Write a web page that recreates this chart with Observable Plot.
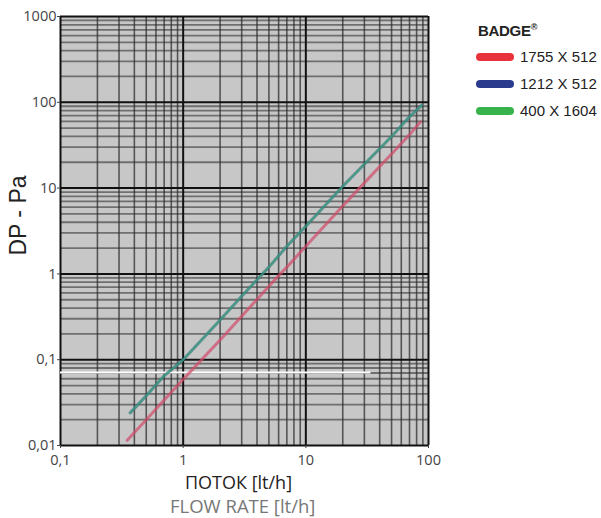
<!DOCTYPE html>
<html>
<head>
<meta charset="utf-8">
<script src="https://cdn.jsdelivr.net/npm/d3@7"></script>
<script src="https://cdn.jsdelivr.net/npm/@observablehq/plot@0.6"></script>
<style>
  body { margin: 0; background: white; }
  #wrap { position: relative; width: 601px; height: 518px; font-family: "Open Sans", "DejaVu Sans", sans-serif; }
  .lbl { position: absolute; white-space: nowrap; line-height: 1; }
  .leg { position: absolute; left: 476px; font-family: "Liberation Sans", Arial, sans-serif; }
  .sw { position: absolute; width: 38px; height: 8px; border-radius: 4px; }
  .lt { position: absolute; left: 44px; top: -9px; font-size: 15px; line-height: 1.2; color: #222; white-space: nowrap; }
</style>
</head>
<body>
<div id="wrap"></div>
<script>
// ---- data ----
const xTicks = [0.1, 1, 10, 100];
const xTickLabels = ["0,1", "1", "10", "100"];
const yTicks = [0.01, 0.1, 1, 10, 100, 1000];
const yTickLabels = ["0,01", "0,1", "1", "10", "100", "1000"];
const decadesX = [0.1, 1, 10];
const decadesY = [0.01, 0.1, 1, 10, 100];
const minorMult = [2, 3, 4, 5, 6, 7, 8, 9];

const seriesNames = ["1755 X 512", "1212 X 512", "400 X 1604"];
const seriesColors = ["#e8323c", "#2a3a8c", "#38b24a"];

const redX = [0.35, 0.5, 0.7, 1, 2, 3, 5, 7, 10, 20, 30, 50, 70, 86];
const redY = [0.0115, 0.02, 0.034, 0.059, 0.17, 0.32, 0.72, 1.2, 2.1, 6.2, 11.5, 25, 42, 59];
const blueX = [0.37, 0.5, 0.7, 1, 2, 3, 5, 7, 10, 20, 30, 50, 70, 88];
const blueY = [0.024, 0.038, 0.065, 0.1, 0.29, 0.55, 1.2, 2.1, 3.6, 10.5, 19, 40, 68, 92];
const greenX = [0.37, 0.5, 0.7, 1, 2, 3, 5, 7, 10, 20, 30, 50, 70, 88];
const greenY = [0.024, 0.038, 0.065, 0.1, 0.29, 0.55, 1.2, 2.1, 3.6, 10.5, 19, 40, 68, 92];

// ---- build tables ----
const xMinor = decadesX.flatMap(d => minorMult.map(m => d * m));
const yMinor = decadesY.flatMap(d => minorMult.map(m => d * m));
const toRows = (xs, ys) => xs.map((x, i) => ({x, y: ys[i]}));
const red = toRows(redX, redY), blue = toRows(blueX, blueY), green = toRows(greenX, greenY);
const xLab = d => xTickLabels[xTicks.indexOf(d)];
const yLab = d => yTickLabels[yTicks.indexOf(d)];

const chart = Plot.plot({
  width: 601, height: 518,
  marginLeft: 60, marginRight: 173, marginTop: 16, marginBottom: 73,
  style: { background: "white", fontFamily: "'Open Sans', 'DejaVu Sans', sans-serif", color: "#444" },
  x: { type: "log", domain: [0.1, 100] },
  y: { type: "log", domain: [0.01, 1000] },
  marks: [
    Plot.frame({ fill: "#c7c7c7" }),
    Plot.ruleY(yMinor, { stroke: "#333", strokeWidth: 1.8, strokeOpacity: 0.6 }),
    Plot.ruleX(xMinor, { stroke: "#2a2a2a", strokeWidth: 1.6, strokeOpacity: 0.72 }),
    Plot.ruleY(yTicks, { stroke: "#111", strokeWidth: 2 }),
    Plot.ruleX(xTicks, { stroke: "#111", strokeWidth: 2 }),
    Plot.ruleY([0.071], { x1: 0.1, x2: 34, stroke: "white", strokeWidth: 2 }),
    Plot.line(red, { x: "x", y: "y", stroke: "#d24a6a", strokeWidth: 3, strokeOpacity: 0.7 }),
    Plot.line(blue, { x: "x", y: "y", stroke: seriesColors[1], strokeWidth: 3, strokeOpacity: 0.45 }),
    Plot.line(green, { x: "x", y: "y", stroke: "#3aa07a", strokeWidth: 2.6, strokeOpacity: 0.75, strokeDasharray: "4,2" }),
    Plot.axisX(xTicks, { tickFormat: xLab, fontSize: 14.5, tickSize: 3, tickPadding: 6, label: null, fill: "#444" }),
    Plot.axisY(yTicks, { tickFormat: yLab, fontSize: 14.5, tickSize: 3, tickPadding: 1, label: null, fill: "#444" })
  ]
});

const wrap = document.getElementById("wrap");
wrap.appendChild(chart);

function addLabel(text, css) {
  const d = document.createElement("div");
  d.className = "lbl";
  d.textContent = text;
  Object.assign(d.style, css);
  wrap.appendChild(d);
  return d;
}
addLabel("ПОТОК [lt/h]", { left: "185px", top: "473px", fontSize: "18px", color: "#222" });
addLabel("FLOW RATE [lt/h]", { left: "170px", top: "497px", fontSize: "18.5px", color: "#777" });
addLabel("DP - Pa", { left: "-22px", top: "204px", fontSize: "23px", color: "#222", transform: "rotate(-90deg)", fontFamily: "'Liberation Sans', Arial, sans-serif" });

// legend
const leg = document.createElement("div");
leg.className = "leg";
leg.style.top = "0px";
const title = document.createElement("div");
title.style.cssText = "position:absolute;left:2px;top:22px;font-weight:bold;font-size:15px;color:#222;white-space:nowrap;letter-spacing:-0.3px";
title.innerHTML = "BADGE<sup style='font-size:9px'>®</sup>";
leg.appendChild(title);
seriesNames.forEach((n, i) => {
  const row = document.createElement("div");
  row.style.cssText = `position:absolute;left:0;top:${57 + i * 27}px;`;
  const sw = document.createElement("div");
  sw.className = "sw";
  sw.style.background = seriesColors[i];
  sw.style.top = "-4px";
  const t = document.createElement("div");
  t.className = "lt";
  t.textContent = n;
  row.appendChild(sw); row.appendChild(t);
  leg.appendChild(row);
});
wrap.appendChild(leg);
</script>
</body>
</html>
